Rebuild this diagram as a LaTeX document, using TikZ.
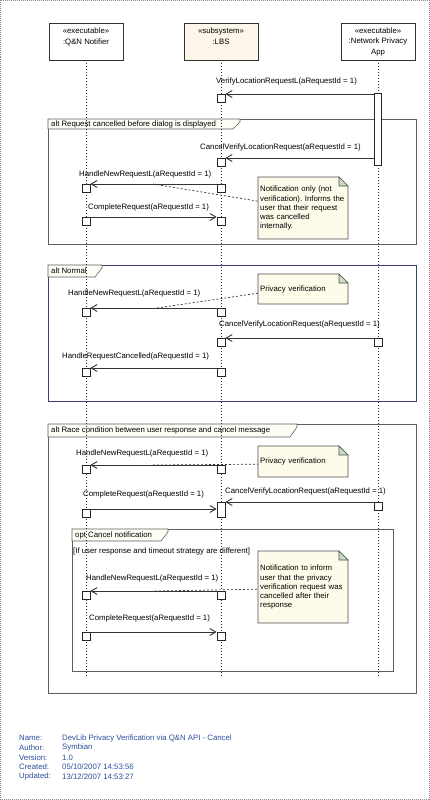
\documentclass[tikz,border=0pt]{standalone}
\usepackage{fontspec}
\setmainfont{Liberation Sans}
\usepackage{xcolor}
\usepackage{tikz}
\usetikzlibrary{arrows.meta}
\frenchspacing

\definecolor{notefill}{HTML}{FFFBEA}
\definecolor{foldfill}{HTML}{C9DEC4}
\definecolor{headfill}{HTML}{FCF7EA}
\definecolor{tabfill}{HTML}{FFFEF6}
\definecolor{footblue}{HTML}{2B4E9C}
\definecolor{framegray}{HTML}{5A605A}
\definecolor{framenavy}{HTML}{3C4078}

\newcommand{\notebody}[4]{%
	\draw[notepaper] (#1,#2) -- ++(#3-9,0) -- ++(9,9) -- ++(0,#4-9) -- ++(-#3,0) -- cycle;
	\draw[notepaper,fill=foldfill] (#1+#3-9,#2) -- ++(0,9) -- ++(9,0) -- cycle;}
\newcommand{\fragtab}[4]{%
	\draw[tab] (#1,#2) -- (#3,#2) -- (#3,#2+3) -- (#3-7,#4) -- (#1,#4) -- cycle;}

\begin{document}
\begin{tikzpicture}[x=1pt,y=-1pt,
	txt/.style={font=\fontsize{7.8}{9.2}\selectfont,inner sep=0pt},
	lbl/.style={txt,anchor=west},
	head/.style={draw=black!80,line width=.8pt,minimum width=74pt,minimum height=37pt,
		align=center,inner sep=0pt,font=\fontsize{7.8}{10.5}\selectfont},
	life/.style={black!85,dash pattern=on 1pt off 2pt,line width=.8pt},
	act/.style={draw=black!85,fill=white,minimum size=8pt,inner sep=0pt,anchor=north,line width=.7pt},
	msg/.style={black!80,line width=.9pt,-{Straight Barb[length=6pt,width=7pt]}},
	frame/.style={draw=framegray,line width=.8pt},
	tab/.style={draw=framegray,fill=tabfill,line width=.6pt},
	notepaper/.style={draw=black!70,fill=notefill,line width=.6pt},
	notetext/.style={txt,align=left,text width=86pt,inner xsep=2pt,minimum height=#1,anchor=north west},
	notelink/.style={black!80,dash pattern=on 2pt off 2pt,line width=.7pt},
	foot/.style={txt,anchor=west,text=footblue}]

	\useasboundingbox (0,0) rectangle (430,800);
	\draw[black!45,dash pattern=on 1pt off 1pt] (0.5,0.5) rectangle (429.5,799.5);

	\draw[frame] (48,119) rectangle (416,244);
	\fragtab{48}{119}{240}{129}
	\node[lbl] (f1) at (51,124.5) {alt Request cancelled before dialog is displayed};

	\draw[frame,draw=framenavy] (48,265) rectangle (416,401);
	\fragtab{48}{265}{102}{277}
	\node[lbl] (f2) at (51,271) {alt Normal};

	\draw[frame] (48,424) rectangle (416,693);
	\fragtab{48}{424}{297}{437}
	\node[lbl] (f3) at (51,430.5) {alt Race condition between user response and cancel message};

	\draw[frame] (72,529) rectangle (393,671);
	\fragtab{72}{529}{168}{541}
	\node[lbl] (f4) at (75,535) {opt Cancel notification};
	\node[lbl] (g4) at (73,551) {[If user response and timeout strategy are different]};

	\node[head] (qn) at (86,41.5) {«executable»\\:Q\&N Notifier\\\mbox{}};
	\node[head,fill=headfill] (lbs) at (221,41.5) {«subsystem»\\:LBS\\\mbox{}};
	\node[head] (np) at (378,41.5) {«executable»\\:Network Privacy\\App};
	\coordinate (qnend) at (86,678);
	\coordinate (lbsend) at (221,678);
	\coordinate (npend) at (378,678);
	\draw[life] (qn) -- (qnend);
	\draw[life] (lbs) -- (lbsend);
	\draw[life] (np) -- (npend);

	\node[act] (lbs1) at (221,94) {};
	\node[act,minimum width=7pt,minimum height=72pt] (npbar) at (378,93) {};
	\draw[msg] (npbar.west |- lbs1.north) -- (lbs1.north east);
	\node[lbl] (m1) at (216,81) {VerifyLocationRequestL(aRequestId = 1)};

	\node[act] (lbs2) at (221,158) {};
	\draw[msg] (npbar.west |- lbs2.north) -- (lbs2.north east);
	\node[lbl] (m2) at (200,147) {CancelVerifyLocationRequest(aRequestId = 1)};

	\node[act] (qn1) at (86,184) {};
	\node[act] (lbs3) at (221,184) {};
	\draw[msg] (lbs3.north west) -- (qn1.north east);
	\node[lbl] (m3) at (79,174) {HandleNewRequestL(aRequestId = 1)};

	\node[act] (qn2) at (86,217) {};
	\node[act] (lbs4) at (221,217) {};
	\draw[msg] (qn2.north east) -- (lbs4.north west);
	\node[lbl] (m4) at (88,207) {CompleteRequest(aRequestId = 1)};

	\notebody{258}{177}{90}{62}
	\node[notetext=62pt] (note1) at (258,177) {Notification only (not\\verification). Informs the\\user that their request\\was cancelled\\internally.};
	\coordinate (n1end) at (153,184);
	\draw[notelink] (n1end) -- ([yshift=7pt]note1.west);

	\node[act] (qn3) at (86,308) {};
	\node[act] (lbs5) at (221,308) {};
	\draw[msg] (lbs5.north west) -- (qn3.north east);
	\node[lbl] (m5) at (68,293) {HandleNewRequestL(aRequestId = 1)};

	\node[act] (lbs6) at (221,338) {};
	\node[act] (np1) at (378,338) {};
	\draw[msg] (np1.north west) -- (lbs6.north east);
	\node[lbl] (m6) at (219,324) {CancelVerifyLocationRequest(aRequestId = 1)};

	\node[act] (qn4) at (86,368) {};
	\node[act] (lbs7) at (221,368) {};
	\draw[msg] (lbs7.north west) -- (qn4.north east);
	\node[lbl] (m7) at (62,356) {HandleRequestCancelled(aRequestId = 1)};

	\notebody{258}{274}{90}{30}
	\node[notetext=30pt] (note2) at (258,274) {Privacy verification};
	\coordinate (n2end) at (157,308);
	\draw[notelink] (n2end) -- ([yshift=-4pt]note2.west);

	\node[act] (qn5) at (86,465) {};
	\node[act] (lbs8) at (221,465) {};
	\draw[msg] (lbs8.north west) -- (qn5.north east);
	\node[lbl] (m8) at (76,453) {HandleNewRequestL(aRequestId = 1)};

	\notebody{258}{446}{90}{31}
	\node[notetext=31pt] (note3) at (258,446) {Privacy verification};
	\coordinate (n3end) at (153,465);
	\draw[notelink] (n3end) -- ([yshift=-2.5pt]note3.west);

	\node[act,minimum height=15pt] (lbsbar) at (221,502) {};
	\node[act] (np2) at (378,502) {};
	\draw[msg] (np2.north west) -- (lbsbar.north east);
	\node[lbl] (m10) at (225,491) {CancelVerifyLocationRequest(aRequestId = 1)};

	\node[act] (qn6) at (86,509) {};
	\draw[msg] (qn6.north east) -- (lbsbar.west |- qn6.north);
	\node[lbl] (m9) at (83,494) {CompleteRequest(aRequestId = 1)};

	\node[act] (qn7) at (86,591) {};
	\node[act] (lbs9) at (221,591) {};
	\draw[msg] (lbs9.north west) -- (qn7.north east);
	\node[lbl] (m11) at (86,578) {HandleNewRequestL(aRequestId = 1)};

	\node[act] (qn8) at (86,632) {};
	\node[act] (lbs10) at (221,632) {};
	\draw[msg] (qn8.north east) -- (lbs10.north west);
	\node[lbl] (m12) at (89,618) {CompleteRequest(aRequestId = 1)};

	\notebody{258}{551}{90}{72}
	\node[notetext=72pt] (note4) at (258,551) {Notification to inform\\user that the privacy\\verification request was\\cancelled after their\\response};
	\coordinate (n4end) at (155,591);
	\draw[notelink] (n4end) -- ([yshift=-2pt]note4.west);

	\node[foot] (kname) at (19,738) {Name:};
	\node[foot] (kauth) at (19,747.7) {Author:};
	\node[foot] (kver) at (19,757.4) {Version:};
	\node[foot] (kcre) at (19,767.1) {Created:};
	\node[foot] (kupd) at (19,776.8) {Updated:};
	\node[foot] (vname) at (62,738) {DevLib Privacy Verification via Q\&N API - Cancel};
	\node[foot] (vauth) at (62,747.7) {Symbian};
	\node[foot] (vver) at (62,757.4) {1.0};
	\node[foot] (vcre) at (62,767.1) {05/10/2007 14:53:56};
	\node[foot] (vupd) at (62,776.8) {13/12/2007 14:53:27};

\end{tikzpicture}
\end{document}
